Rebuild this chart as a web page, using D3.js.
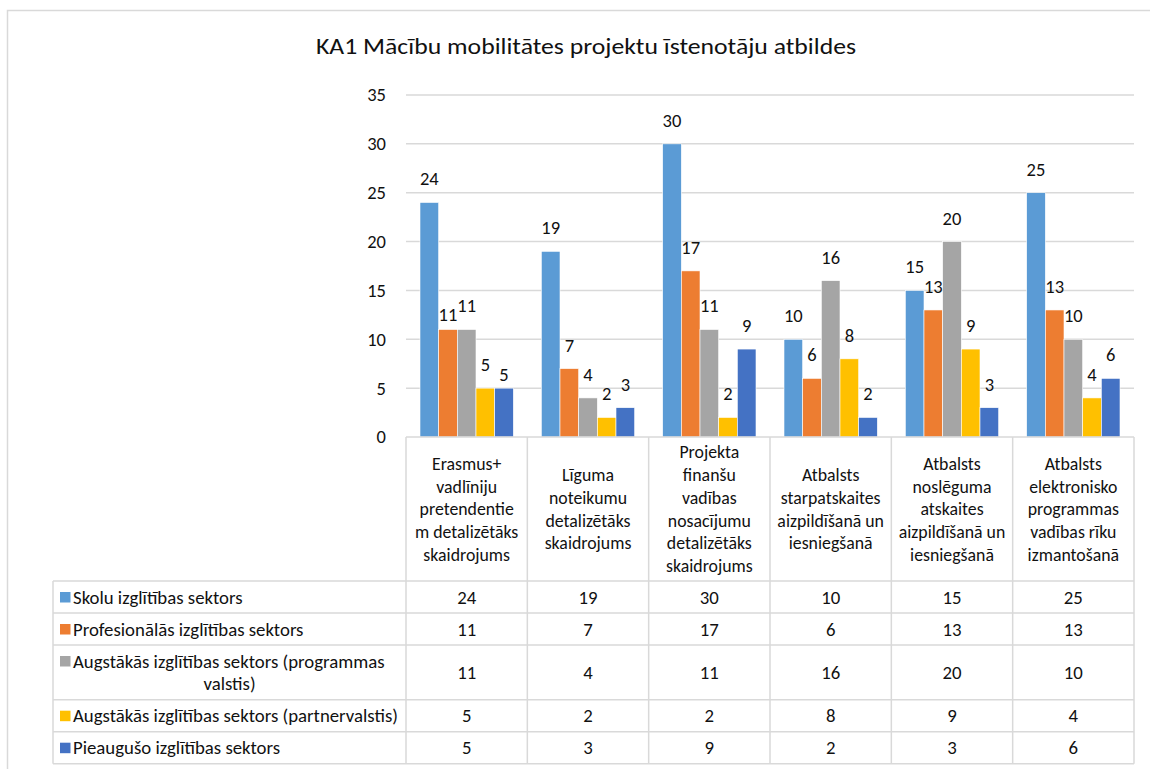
<!DOCTYPE html>
<html>
<head>
<meta charset="utf-8">
<script src="https://cdn.jsdelivr.net/npm/d3@7"></script>
<style>
  body { margin: 0; background: #fff; }
  svg { display: block; font-family: Carlito, Lato, "Open Sans", sans-serif; }
</style>
</head>
<body>
<div id="chart"></div>
<script>
// chart data
var title = "KA1 Mācību mobilitātes projektu īstenotāju atbildes"

var categories = [
  "Erasmus+ vadlīniju pretendentiem detalizētāks skaidrojums",
  "Līguma noteikumu detalizētāks skaidrojums",
  "Projekta finanšu vadības nosacījumu detalizētāks skaidrojums",
  "Atbalsts starpatskaites aizpildīšanā un iesniegšanā",
  "Atbalsts noslēguma atskaites aizpildīšanā un iesniegšanā",
  "Atbalsts elektronisko programmas vadības rīku izmantošanā"
]
// how the category names wrap in the table header
var categoryLines = [
  ["Erasmus+", "vadlīniju", "pretendentie", "m detalizētāks", "skaidrojums"],
  ["Līguma", "noteikumu", "detalizētāks", "skaidrojums"],
  ["Projekta", "finanšu", "vadības", "nosacījumu", "detalizētāks", "skaidrojums"],
  ["Atbalsts", "starpatskaites", "aizpildīšanā un", "iesniegšanā"],
  ["Atbalsts", "noslēguma", "atskaites", "aizpildīšanā un", "iesniegšanā"],
  ["Atbalsts", "elektronisko", "programmas", "vadības rīku", "izmantošanā"]
]

var seriesNames = [
  "Skolu izglītības sektors",
  "Profesionālās izglītības sektors",
  "Augstākās izglītības sektors (programmas valstis)",
  "Augstākās izglītības sektors (partnervalstis)",
  "Pieaugušo izglītības sektors"
]
var seriesLines = [
  ["Skolu izglītības sektors"],
  ["Profesionālās izglītības sektors"],
  ["Augstākās izglītības sektors (programmas", "valstis)"],
  ["Augstākās izglītības sektors (partnervalstis)"],
  ["Pieaugušo izglītības sektors"]
]

var skolu = [24, 19, 30, 10, 15, 25]
var profesionalas = [11, 7, 17, 6, 13, 13]
var augstakasProgramma = [11, 4, 11, 16, 20, 10]
var augstakasPartner = [5, 2, 2, 8, 9, 4]
var pieauguso = [5, 3, 9, 2, 3, 6]

var yTicks = [0, 5, 10, 15, 20, 25, 30, 35]

var colors = ["#5B9BD5", "#ED7D31", "#A5A5A5", "#FFC000", "#4472C4"]

var values = [skolu, profesionalas, augstakasProgramma, augstakasPartner, pieauguso]


// layout
const W = 1150, H = 769
const plot = { left: 406, right: 1134, top: 95, bottom: 437 }
const tableLeft = 53, headerBottom = 581
const rowH = 32, lineH = 22.7
const ink = "#111"

const svg = d3.select("#chart").append("svg")
  .attr("width", W)
  .attr("height", H)

// outer frame
svg.append("rect")
  .attr("x", 7.5).attr("y", 10.5)
  .attr("width", W + 20).attr("height", H + 20)
  .attr("fill", "none")
  .attr("stroke", "#d9d9d9")
  .attr("stroke-width", 1.5)

svg.append("text")
  .attr("x", 586)
  .attr("y", 54)
  .attr("text-anchor", "middle")
  .attr("font-size", 21.5)
  .attr("textLength", 540)
  .attr("lengthAdjust", "spacingAndGlyphs")
  .attr("fill", ink)
  .text(title)

const x = d3.scaleBand()
  .domain(categories)
  .range([plot.left, plot.right])

const xs = d3.scaleBand()
  .domain(d3.range(seriesNames.length))
  .range([0, x.bandwidth()])
  .paddingOuter(0.75)

const y = d3.scaleLinear()
  .domain([0, 35])
  .range([plot.bottom, plot.top])

// gridlines
svg.append("g")
  .selectAll("line")
  .data(yTicks.filter(d => d > 0))
  .join("line")
  .attr("x1", plot.left).attr("x2", plot.right)
  .attr("y1", d => y(d)).attr("y2", d => y(d))
  .attr("stroke", "#d9d9d9")
  .attr("stroke-width", 1.5)

// y axis labels
const yAxis = svg.append("g")
  .attr("transform", `translate(${plot.left - 20},0)`)
  .call(d3.axisLeft(y).tickValues(yTicks).tickSize(0).tickPadding(0))
yAxis.select(".domain").remove()
yAxis.selectAll("text")
  .attr("font-size", 18.5)
  .attr("font-family", "Carlito, Lato, sans-serif")
  .attr("fill", ink)

// bars
var bars = []
values.forEach(function (vals, s) {
  vals.forEach(function (v, c) {
    bars.push({ s: s, c: c, v: v })
  })
})

// a couple of labels were pushed down in the original to avoid overlaps
var labelNudge = { "1-0": 9, "4-0": 10 }

svg.append("g")
  .selectAll("rect")
  .data(bars)
  .join("rect")
  .attr("x", d => x(categories[d.c]) + xs(d.s))
  .attr("y", d => y(d.v))
  .attr("width", xs.bandwidth())
  .attr("height", d => y(0) - y(d.v))
  .attr("fill", d => colors[d.s])
  .attr("stroke", "#fff")
  .attr("stroke-width", 0.6)

svg.append("g")
  .selectAll("text")
  .data(bars)
  .join("text")
  .attr("x", d => x(categories[d.c]) + xs(d.s) + xs.bandwidth() / 2)
  .attr("y", d => y(d.v) - 23.5 + (labelNudge[d.s + "-" + d.c] || 0))
  .attr("dy", "0.35em")
  .attr("text-anchor", "middle")
  .attr("font-size", 18.5)
  .attr("fill", ink)
  .text(d => d.v)


// data table
var rowTops = [headerBottom]
seriesLines.forEach(function (lines, i) {
  rowTops.push(rowTops[i] + rowH + (lines.length - 1) * lineH)
})
const tableBottom = rowTops[rowTops.length - 1]

const grid = svg.append("g")
  .attr("stroke", "#d9d9d9")
  .attr("stroke-width", 1.5)

grid.append("line")
  .attr("x1", plot.left).attr("x2", plot.right)
  .attr("y1", plot.bottom).attr("y2", plot.bottom)

grid.selectAll(".h")
  .data(rowTops)
  .join("line")
  .attr("class", "h")
  .attr("x1", tableLeft).attr("x2", plot.right)
  .attr("y1", d => d).attr("y2", d => d)

grid.selectAll(".v")
  .data(categories.map(c => x(c)).concat([plot.right]))
  .join("line")
  .attr("class", "v")
  .attr("x1", d => d).attr("x2", d => d)
  .attr("y1", plot.bottom).attr("y2", tableBottom)

grid.append("line")
  .attr("x1", tableLeft).attr("x2", tableLeft)
  .attr("y1", headerBottom).attr("y2", tableBottom)

// header cells
const header = svg.append("g")
  .attr("font-size", 17.8)
  .attr("fill", ink)
  .attr("text-anchor", "middle")

categoryLines.forEach(function (lines, c) {
  var cx = x(categories[c]) + x.bandwidth() / 2
  var mid = (plot.bottom + headerBottom) / 2
  var y0 = mid - (lines.length - 1) * lineH / 2
  header.append("text")
    .selectAll("tspan")
    .data(lines)
    .join("tspan")
    .attr("x", cx)
    .attr("y", (d, i) => y0 + i * lineH)
    .attr("dy", "0.35em")
    .text(d => d)
})

// legend cells + values
const rows = svg.append("g")
  .attr("font-size", 18.8)
  .attr("fill", ink)

seriesLines.forEach(function (lines, s) {
  var top = rowTops[s], bottom = rowTops[s + 1]
  var mid = (top + bottom) / 2
  var y0 = mid - (lines.length - 1) * lineH / 2

  rows.append("rect")
    .attr("x", 60)
    .attr("y", y0 - 5)
    .attr("width", 10.5)
    .attr("height", 10.5)
    .attr("fill", colors[s])

  rows.append("text")
    .attr("x", 73)
    .attr("y", y0)
    .attr("dy", "0.35em")
    .text(lines[0])

  if (lines.length > 1) {
    rows.append("text")
      .attr("x", (tableLeft + plot.left) / 2)
      .attr("y", y0 + lineH)
      .attr("dy", "0.35em")
      .attr("text-anchor", "middle")
      .text(lines[1])
  }

  rows.append("g")
    .selectAll("text")
    .data(values[s])
    .join("text")
    .attr("x", (d, c) => x(categories[c]) + x.bandwidth() / 2)
    .attr("y", mid)
    .attr("dy", "0.35em")
    .attr("text-anchor", "middle")
    .text(d => d)
})
</script>
</body>
</html>
